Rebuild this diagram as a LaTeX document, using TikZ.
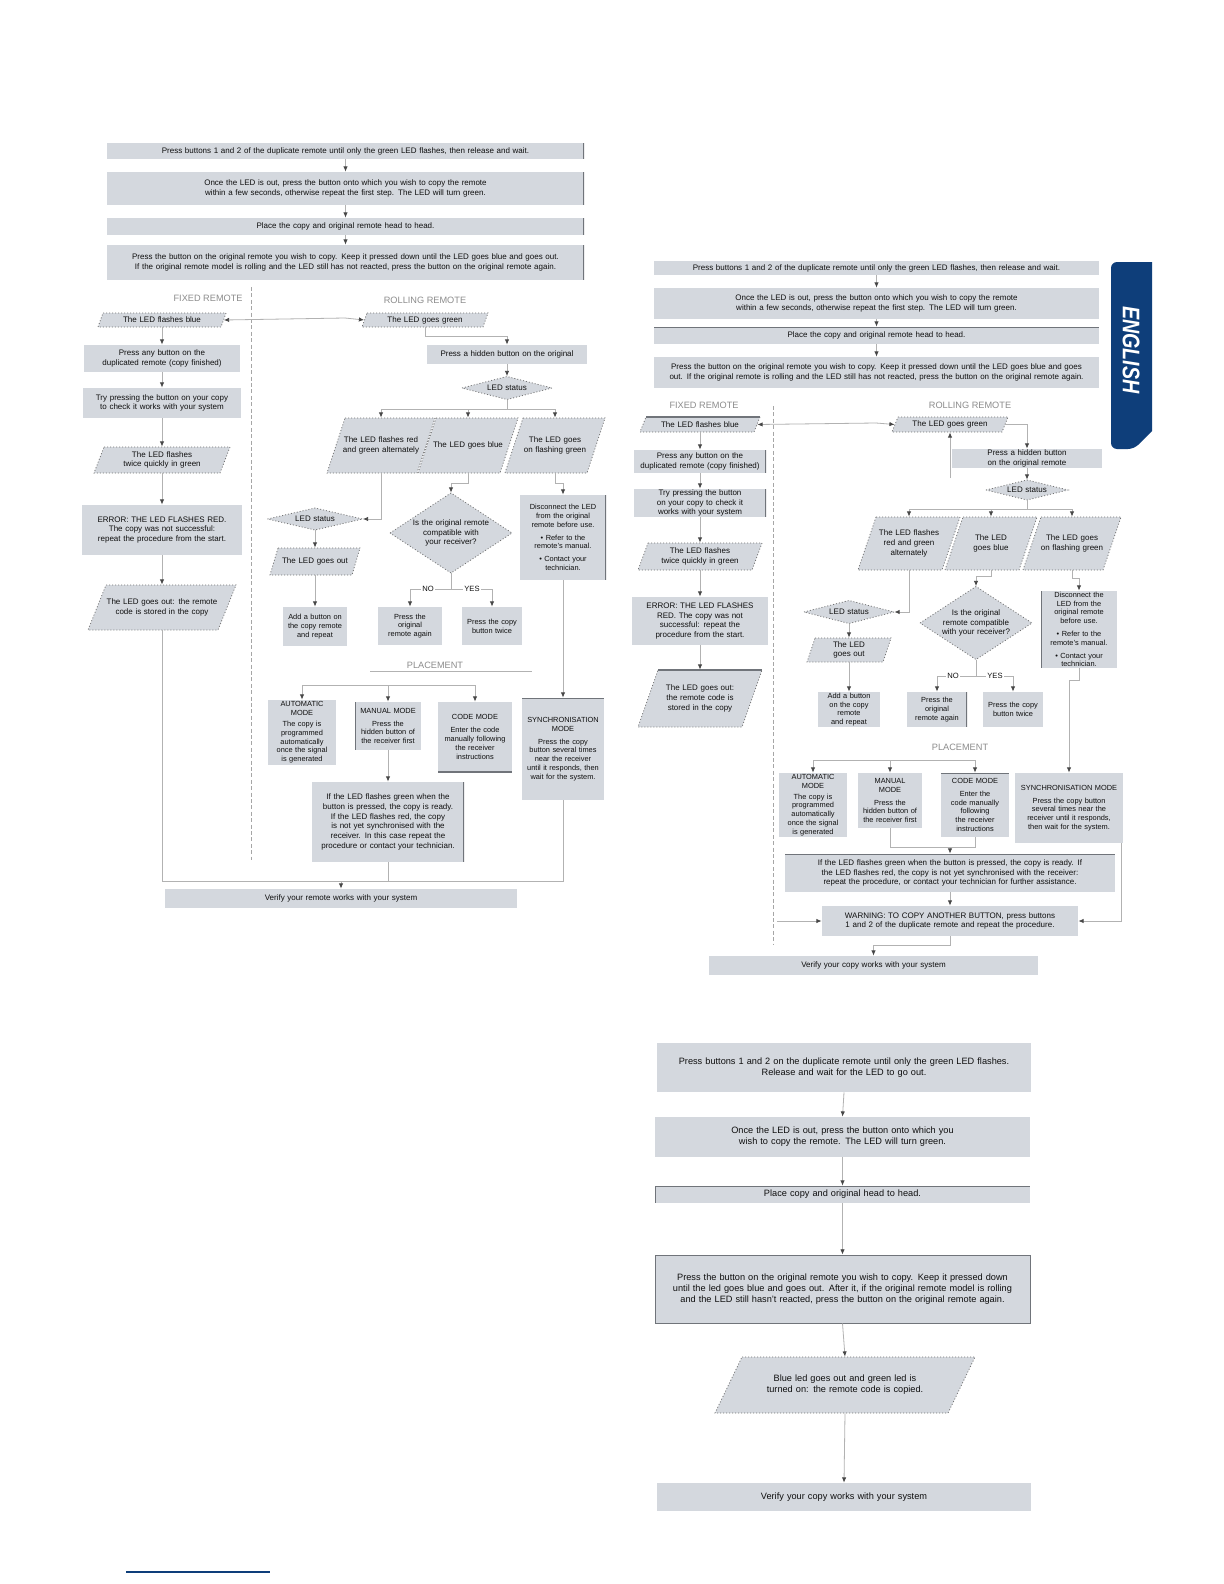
\documentclass[tikz,border=0pt]{standalone}
\usepackage{fontspec}
\setmainfont{Liberation Sans}
\usepackage{graphicx}
\usetikzlibrary{arrows.meta}
\hyphenpenalty=10000
\exhyphenpenalty=10000
\definecolor{boxfill}{RGB}{212,216,222}
\definecolor{edgec}{RGB}{112,116,122}
\definecolor{linec}{RGB}{178,178,178}
\definecolor{tipc}{RGB}{70,70,70}
\definecolor{txt}{RGB}{15,15,15}
\definecolor{labc}{RGB}{140,140,140}
\definecolor{tabblue}{RGB}{14,62,122}
\definecolor{dotc}{RGB}{115,115,115}
\tikzset{
 box/.style={fill=boxfill, inner sep=0pt, align=center, text=txt, font=\fontsize{4}{4.9}\selectfont},
 ptext/.style={inner sep=0pt, align=center, text=txt, font=\fontsize{4}{4.9}\selectfont},
 bigtext/.style={font=\fontsize{4.6}{5.6}\selectfont},
 smalltext/.style={font=\fontsize{3.7}{4.4}\selectfont},
 darkedge/.style={draw=edgec, line width=1.3pt},
 redge/.style={path picture={\draw[darkedge] (path picture bounding box.north east)--(path picture bounding box.south east);}},
 ledge/.style={path picture={\draw[darkedge] (path picture bounding box.north west)--(path picture bounding box.south west);}},
 tedge/.style={path picture={\draw[darkedge] (path picture bounding box.north west)--(path picture bounding box.north east);}},
 bedge/.style={path picture={\draw[darkedge] (path picture bounding box.south west)--(path picture bounding box.south east);}},
 tledge/.style={path picture={\draw[darkedge] (path picture bounding box.south west)--(path picture bounding box.north west)--(path picture bounding box.north east);}},
 dotline/.style={draw=dotc, line width=0.4pt, dash pattern=on 0.5pt off 1pt},
 conn/.style={draw=linec, line width=0.4pt, -{Latex[length=2.6pt,width=2.2pt,color=tipc]}},
 plain/.style={draw=linec, line width=0.4pt},
 dashsep/.style={draw=gray!70, line width=0.45pt, dash pattern=on 2pt off 1.2pt},
 lab/.style={text=labc, inner sep=0pt, font=\fontsize{4.6}{5}\selectfont},
 yn/.style={text=txt, fill=white, inner sep=0.8pt, font=\fontsize{3.8}{4}\selectfont}
}
\newcommand\mybox[7][]{%
  \pgfmathsetmacro\bxw{(#5-#3)*0.5}%
  \pgfmathsetmacro\bxh{(#6-#4)*0.5}%
  \pgfmathsetmacro\bxt{(#5-#3)*0.5-5}%
  \node[box,minimum width=\bxw pt,minimum height=\bxh pt,text width=\bxt pt,#1] (#2) at ({(#3+#5)/2},{(#4+#6)/2}) {#7};}
\newcommand\mypara[8][]{%
  \path[fill=boxfill] (#3+#7,#4) -- (#5,#4) -- (#5-#7,#6) -- (#3,#6) -- cycle;
  \path[dotline] (#3+#7,#4) -- (#5,#4) -- (#5-#7,#6) -- (#3,#6) -- cycle;
  \pgfmathsetmacro\bxw{(#5-#3-#7)*0.5}%
  \pgfmathsetmacro\bxh{(#6-#4)*0.5}%
  \pgfmathsetmacro\bxt{(#5-#3-#7)*0.5-6}%
  \node[ptext,minimum width=\bxw pt,minimum height=\bxh pt,text width=\bxt pt,#1] (#2) at ({(#3+#5)/2},{(#4+#6)/2}) {#8};}
\newcommand\mydia[7][]{%
  \path[fill=boxfill] (#3-#5/2,#4) -- (#3,#4-#6/2) -- (#3+#5/2,#4) -- (#3,#4+#6/2) -- cycle;
  \path[dotline] (#3-#5/2,#4) -- (#3,#4-#6/2) -- (#3+#5/2,#4) -- (#3,#4+#6/2) -- cycle;
  \pgfmathsetmacro\bxw{#5*0.5}%
  \pgfmathsetmacro\bxh{#6*0.5}%
  \pgfmathsetmacro\bxt{#5*0.5*0.66}%
  \node[ptext,minimum width=\bxw pt,minimum height=\bxh pt,text width=\bxt pt,#1] (#2) at (#3,#4) {#7};}
\begin{document}
\begin{tikzpicture}[x=0.5pt,y=-0.5pt]
\fill[white] (0,0) rectangle (1224,1584);
\useasboundingbox (0,0) rectangle (1224,1584);

% ================= LEFT PAGE PART =================
\mybox[redge]{t1}{107}{143}{584}{159}{Press buttons 1 and 2 of the duplicate remote until only the green LED flashes, then release and wait.}
\mybox[redge]{t2}{107}{172}{584}{205}{Once the LED is out, press the button onto which you wish to copy the remote within a few seconds, otherwise repeat the first step. The LED will turn green.}
\mybox[redge]{t3}{107}{218}{584}{235}{Place the copy and original remote head to head.}
\mybox[redge]{t4}{107}{245}{584}{280}{Press the button on the original remote you wish to copy. Keep it pressed down until the LED goes blue and goes out. If the original remote model is rolling and the LED still has not reacted, press the button on the original remote again.}
\draw[conn] (t1.south) -- (t2.north);
\draw[conn] (t2.south) -- (t3.north);
\draw[conn] (t3.south) -- (t4.north);

\node[lab,anchor=east] (lfixed) at (243,298) {FIXED REMOTE};
\node[lab] (lroll) at (425,300) {ROLLING REMOTE};
\draw[dashsep] (251,287) -- (251,860);

% fixed remote column
\mypara{f1}{98}{313}{226}{327}{5}{The LED flashes blue}
\mybox{f2}{84}{345}{240}{372}{Press any button on the duplicated remote (copy finished)}
\mybox{f3}{83}{388}{241}{418}{Try pressing the button on your copy to check it works with your system}
\mypara{f4}{94}{447}{230}{473}{10}{The LED flashes twice quickly in green}
\mybox{f5}{82}{505}{242}{555}{ERROR: THE LED FLASHES RED. The copy was not successful: repeat the procedure from the start.}
\mypara{f6}{88}{585}{236}{630}{18}{The LED goes out: the remote code is stored in the copy}
\coordinate (sL) at (345,318);
\draw[conn] (sL) -- (f1.east);
\draw[conn] (f1.south) -- (f2.north);
\draw[conn] (f2.south) -- (f3.north);
\draw[conn] (f3.south) -- (f4.north);
\draw[conn] (f4.south) -- (f5.north);
\draw[conn] (f5.south) -- (f6.north);

% rolling remote column
\mypara{r1}{362}{313}{488}{327}{5}{The LED goes green}
\mybox{r2}{427}{345}{587}{364}{Press a hidden button on the original}
\mydia{r3}{507}{388}{90}{23}{LED status}
\mypara{r4}{327}{418}{435}{473}{18}{The LED flashes red and green alternately}
\mypara{r5}{418}{418}{518}{473}{18}{The LED goes blue}
\mypara{r6}{505}{418}{605}{473}{18}{The LED goes on flashing green}
\mydia{r7}{451}{533}{122}{80}{Is the original remote compatible with your receiver?}
\mydia{r8}{315}{519}{95}{22}{LED status}
\mypara{r9}{270}{548}{360}{575}{8}{The LED goes out}
\mybox[redge,smalltext]{r10}{520}{495}{606}{580}{Disconnect the LED from the original remote before use.\\[2pt]\textbullet\ Refer to the remote's manual.\\[2pt]\textbullet\ Contact your technician.}
\mybox[smalltext]{b1}{283}{607}{347}{646}{Add a button on the copy remote and repeat}
\mybox[smalltext]{b2}{378}{607}{442}{645}{Press the original remote again}
\mybox[smalltext]{b3}{462}{607}{522}{645}{Press the copy button twice}
\draw[conn] (sL) -- (r1.west);
\draw[conn] (r1.south) -- ++(0,9) -| (r2.north);
\draw[conn] (r2.south) -- (r3.north);
\coordinate (r3s) at (507,409);
\draw[conn] (r3.south) -- (r3s) -| (r4.north);
\draw[conn] (r3s) -| (r5.north);
\draw[conn] (r3s) -| (r6.north);
\draw[conn] (r5.south) -- ++(0,10) -| (r7.north);
\draw[conn] (r4.south) |- (r8.east);
\draw[conn] (r8.south) -- (r9.north);
\draw[conn] (r9.south) -- (b1.north);
\coordinate (r7s) at (451,589);
\draw[plain] (r7.south) -- (r7s);
\draw[conn] (r7s) -| (b2.north);
\draw[conn] (r7s) -| (b3.north);
\node[yn] (lno) at (428,589) {NO};
\node[yn] (lyes) at (472,589) {YES};
\draw[conn] (r6.south) -- ++(0,10) -| (r10.north);

% placement
\node[lab] (lplace) at (435,665) {PLACEMENT};
\draw[plain] (370,671) -- (532,671);
\mybox[smalltext]{a1}{268}{700}{336}{765}{AUTOMATIC MODE\\[1pt]The copy is programmed automatically once the signal is generated}
\mybox[ledge,smalltext]{a2}{355}{702}{421}{750}{MANUAL MODE\\[2pt]Press the hidden button of the receiver first}
\mybox[bedge,smalltext]{a3}{438}{702}{512}{772}{CODE MODE\\[2pt]Enter the code manually following the receiver instructions}
\mybox[tedge,smalltext]{a4}{522}{698}{604}{800}{SYNCHRONISATION MODE\\[2pt]Press the copy button several times near the receiver until it responds, then wait for the system.}
\coordinate (pa) at (302,685);
\coordinate (pb) at (475,685);
\draw[plain] (pa) -- (pb);
\draw[conn] (pa) -- (a1.north);
\draw[conn] (pa -| a2.north) -- (a2.north);
\draw[conn] (pb) -- (a3.north);
\draw[conn] (r10.south) -- (a4.north);
\mybox[redge]{m}{312}{782}{464}{862}{If the LED flashes green when the button is pressed, the copy is ready. If the LED flashes red, the copy is not yet synchronised with the receiver. In this case repeat the procedure or contact your technician.}
\draw[conn] (a2.south) -- (m.north);
\mybox{lfin}{165}{889}{517}{908}{Verify your remote works with your system}
\coordinate (bj) at (341,881);
\draw[plain] (f6.south) |- (bj);
\draw[plain] (m.south) |- (bj);
\draw[plain] (a4.south) |- (bj);
\draw[conn] (bj) -- (lfin.north);

% ================= RIGHT PAGE PART =================
\fill[tabblue] (1152,262) [rounded corners=3pt] -- (1111,262) -- (1111,449) -- (1134,449) [sharp corners] -- (1152,431) -- cycle;
\node[rotate=-90, text=white, inner sep=0pt, font=\fontsize{12}{12}\selectfont\bfseries\itshape] (tab) at (1131,350) {\scalebox{0.82}[1]{ENGLISH}};

\mybox{rt1}{654}{261}{1099}{275}{Press buttons 1 and 2 of the duplicate remote until only the green LED flashes, then release and wait.}
\mybox{rt2}{654}{288}{1099}{319}{Once the LED is out, press the button onto which you wish to copy the remote within a few seconds, otherwise repeat the first step. The LED will turn green.}
\mybox[tedge]{rt3}{654}{327}{1099}{344}{Place the copy and original remote head to head.}
\mybox{rt4}{654}{357}{1099}{388}{Press the button on the original remote you wish to copy. Keep it pressed down until the LED goes blue and goes out. If the original remote is rolling and the LED still has not reacted, press the button on the original remote again.}
\draw[conn] (rt1.south) -- (rt2.north);
\draw[conn] (rt2.south) -- (rt3.north);
\draw[conn] (rt3.south) -- (rt4.north);

\node[lab] (rfixed) at (704,405) {FIXED REMOTE};
\node[lab] (rroll) at (970,405) {ROLLING REMOTE};
\draw[dashsep] (773,406) -- (773,944);

% fixed
\mypara{rf1}{640}{417}{760}{432}{6}{The LED flashes blue}
\draw[darkedge,line width=0.7pt] (646,417) -- (760,417);
\mybox[redge]{rf2}{634}{450}{766}{473}{Press any button on the duplicated remote (copy finished)}
\mybox[redge]{rf3}{634}{489}{766}{517}{Try pressing the button on your copy to check it works with your system}
\mypara{rf4}{638}{543}{762}{570}{10}{The LED flashes twice quickly in green}
\mybox{rf5}{632}{597}{768}{645}{ERROR: THE LED FLASHES RED. The copy was not successful: repeat the procedure from the start.}
\mypara{rf6}{638}{670}{762}{727}{20}{The LED goes out: the remote code is stored in the copy}
\draw[darkedge,line width=0.7pt] (658,670) -- (762,670);
\coordinate (sR) at (876,423);
\draw[conn] (sR) -- (rf1.east);
\draw[conn] (rf1.south) -- (rf2.north);
\draw[conn] (rf2.south) -- (rf3.north);
\draw[conn] (rf3.south) -- (rf4.north);
\draw[conn] (rf4.south) -- (rf5.north);
\draw[conn] (rf5.south) -- (rf6.north);

% rolling
\mypara{rr1}{892}{417}{1008}{432}{6}{The LED goes green}
\mybox{rr2}{952}{449}{1102}{468}{Press a hidden button on the original remote}
\mydia{rr3}{1027}{490}{82}{20}{LED status}
\mypara{rr4}{858}{517}{960}{570}{18}{The LED flashes red and green alternately}
\mypara{rr5}{945}{517}{1037}{570}{18}{The LED goes blue}
\mypara{rr6}{1023}{517}{1121}{570}{18}{The LED goes on flashing green}
\mydia{rr7}{976}{623}{112}{73}{Is the original remote compatible with your receiver?}
\mydia{rr8}{849}{612}{90}{23}{LED status}
\mypara{rr9}{807}{638}{891}{662}{8}{The LED goes out}
\mybox[ledge,smalltext]{rr10}{1041}{591}{1117}{668}{Disconnect the LED from the original remote before use.\\[2pt]\textbullet\ Refer to the remote's manual.\\[2pt]\textbullet\ Contact your technician.}
\mybox[smalltext]{rb1}{818}{692}{880}{727}{Add a button on the copy remote and repeat}
\mybox[redge,smalltext]{rb2}{907}{692}{967}{727}{Press the original remote again}
\mybox[smalltext]{rb3}{983}{692}{1043}{727}{Press the copy button twice}
\draw[conn] (sR) -- (rr1.west);
\draw[conn] (rr1.east) -| (rr2.north);
\coordinate (rrup) at (950,478);
\draw[conn] (rrup) -- (rr1.south);
\draw[conn] (rr2.south) -- (rr3.north);
\coordinate (rr3s) at (1027,509);
\draw[conn] (rr3.south) -- (rr3s) -| (rr4.north);
\draw[conn] (rr3s) -| (rr5.north);
\draw[conn] (rr3s) -| (rr6.north);
\draw[conn] (rr5.south) -- ++(0,6) -| (rr7.north);
\draw[conn] (rr4.south) |- (rr8.east);
\draw[conn] (rr8.south) -- (rr9.north);
\draw[conn] (rr9.south) -- (rb1.north);
\coordinate (rr7s) at (976,676);
\draw[plain] (rr7.south) -- (rr7s);
\draw[conn] (rr7s) -| (rb2.north);
\draw[conn] (rr7s) -| (rb3.north);
\node[yn] (rno) at (953,676) {NO};
\node[yn] (ryes) at (995,676) {YES};
\draw[conn] (rr6.south) -- ++(0,8) -| (rr10.north);

% placement right
\node[lab] (rplace) at (960,747) {PLACEMENT};
\mybox[smalltext]{c1}{779}{773}{847}{837}{AUTOMATIC MODE\\[1pt]The copy is programmed automatically once the signal is generated}
\mybox[smalltext]{c2}{858}{773}{922}{828}{MANUAL MODE\\[2pt]Press the hidden button of the receiver first}
\mybox[tedge,smalltext]{c3}{941}{773}{1009}{837}{CODE MODE\\[2pt]Enter the code manually following the receiver instructions}
\mybox[smalltext]{c4}{1015}{773}{1123}{843}{SYNCHRONISATION MODE\\[2pt]Press the copy button several times near the receiver until it responds, then wait for the system.}
\coordinate (pc) at (813,760);
\coordinate (pd) at (975,760);
\draw[plain] (pc) -- (pd);
\draw[conn] (pc) -- (c1.north);
\draw[conn] (pc -| c2.north) -- (c2.north);
\draw[conn] (pd) -- (c3.north);
\draw[conn] (rr10.south) -- ++(0,12) -| (c4.north);
\mybox[tedge]{d}{785}{854}{1115}{892}{If the LED flashes green when the button is pressed, the copy is ready. If the LED flashes red, the copy is not yet synchronised with the receiver: repeat the procedure, or contact your technician for further assistance.}
\coordinate (dj) at (950,847);
\draw[plain] (c2.south) |- (dj);
\draw[plain] (c3.south) |- (dj);
\draw[conn] (dj) -- (d.north);
\mybox{e}{822}{906}{1078}{936}{WARNING: TO COPY ANOTHER BUTTON, press buttons 1 and 2 of the duplicate remote and repeat the procedure.}
\draw[conn] (d.south) -- (e.north);
\coordinate (el) at (777,921);
\draw[conn] (el) -- (e.west);
\coordinate (cr) at (1121,843);
\draw[conn] (cr) |- (e.east);
\mybox{rfin}{709}{956}{1038}{975}{Verify your copy works with your system}
\draw[conn] (e.south) -- ++(0,9) -| (rfin.north);

% lower column
\mybox[bigtext]{g1}{657}{1043}{1031}{1092}{Press buttons 1 and 2 on the duplicate remote until only the green LED flashes.\\Release and wait for the LED to go out.}
\mybox[bigtext]{g2}{655}{1117}{1030}{1157}{Once the LED is out, press the button onto which you wish to copy the remote. The LED will turn green.}
\mybox[bigtext,tledge]{g3}{655}{1186}{1030}{1203}{Place copy and original head to head.}
\mybox[bigtext,draw=edgec,line width=0.5pt]{g4}{655}{1255}{1030}{1323}{Press the button on the original remote you wish to copy. Keep it pressed down until the led goes blue and goes out. After it, if the original remote model is rolling and the LED still hasn't reacted, press the button on the original remote again.}
\mypara[bigtext]{gp}{715}{1357}{975}{1413}{27}{Blue led goes out and green led is turned on: the remote code is copied.}
\mybox[bigtext]{g5}{657}{1483}{1031}{1511}{Verify your copy works with your system}
\draw[conn] (g1.south) -- (g2.north);
\draw[conn] (g2.south) -- (g3.north);
\draw[conn] (g3.south) -- (g4.north);
\draw[conn] (g4.south) -- (gp.north);
\draw[conn] (gp.south) -- (g5.north);

% footer rule
\draw[tabblue, line width=0.6pt] (126,1572) -- (270,1572);
\end{tikzpicture}
\end{document}
